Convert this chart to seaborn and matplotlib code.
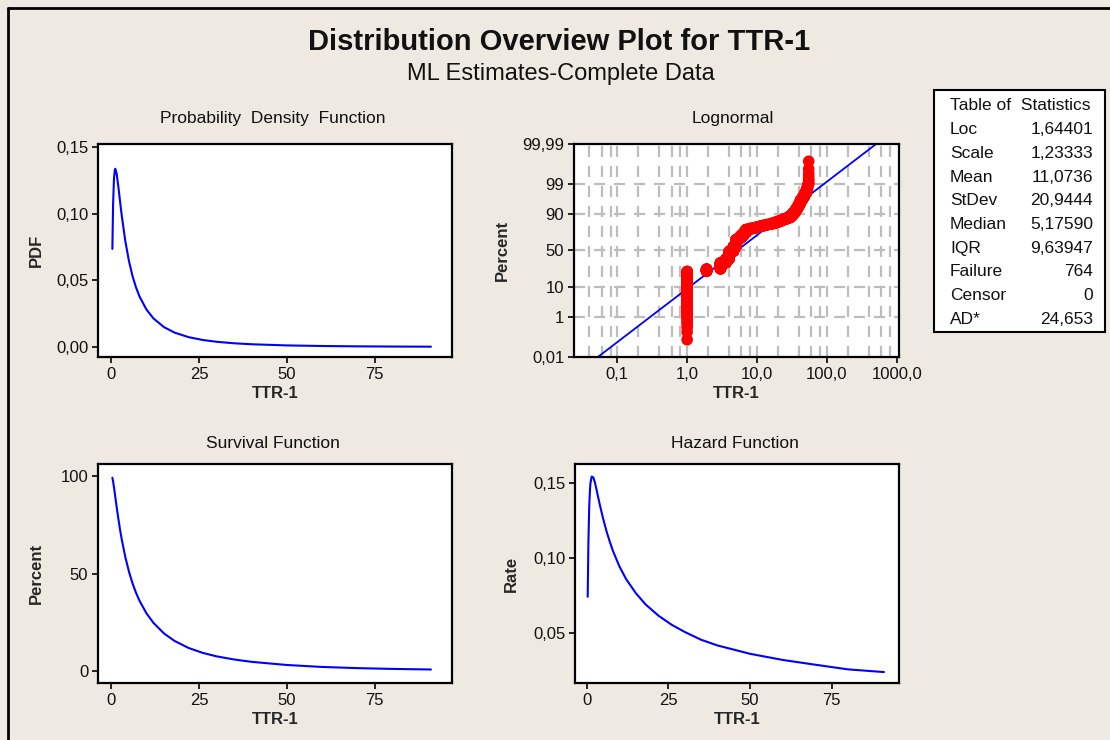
import numpy as np
import pandas as pd
import matplotlib
matplotlib.use("Agg")
import matplotlib.pyplot as plt
import seaborn as sns
from matplotlib.ticker import FixedLocator, NullLocator, FixedFormatter
from matplotlib.patches import Rectangle
from matplotlib.lines import Line2D
from statistics import NormalDist

# ---------------- data ----------------
curve_x = [0.29, 0.5, 0.75, 1.0, 1.13, 1.5, 2, 2.5, 3, 4, 5, 6, 7, 8, 10, 12, 15, 18,
           22, 26, 30, 35, 40, 50, 60, 70, 80, 91]
pdf_y = [0.0736, 0.1074, 0.1265, 0.1330, 0.1337, 0.1302, 0.1202, 0.1087, 0.0978, 0.0791,
         0.0647, 0.0535, 0.0449, 0.0380, 0.0281, 0.0214, 0.0149, 0.0108, 0.00739, 0.00528,
         0.00391, 0.00278, 0.00205, 0.00119, 0.00075, 0.00050, 0.00034, 0.00024]
survival_pct = [99.0, 97.1, 94.1, 90.9, 89.1, 84.2, 78.0, 72.2, 67.1, 58.3, 51.1, 45.2, 40.3,
                36.2, 29.7, 24.8, 19.4, 15.6, 12.0, 9.5, 7.7, 6.1, 4.9, 3.3, 2.3, 1.7, 1.3, 1.0]
hazard_y = [0.0743, 0.1106, 0.1344, 0.1463, 0.1501, 0.1546, 0.1541, 0.1506, 0.1458, 0.1357,
            0.1266, 0.1184, 0.1114, 0.1050, 0.0946, 0.0863, 0.0768, 0.0692, 0.0616, 0.0556,
            0.0508, 0.0456, 0.0418, 0.0362, 0.0321, 0.0289, 0.0258, 0.0240]

ttr_values = [1.0, 1.9, 3.0, 3.6, 4.0, 4.6, 5.0, 5.5, 6.0, 6.5, 7.0, 8, 9, 10, 11, 12, 13, 14,
              16, 18, 20, 22, 24, 27, 30, 32, 34, 36, 38, 40, 42, 45, 48, 51, 53, 55]
ttr_counts = [178, 20, 57, 40, 78, 50, 72, 20, 25, 22, 26, 8, 6, 6, 5, 5, 4, 4,
              7, 7, 7, 7, 7, 7, 10, 10, 10, 10, 9, 9, 9, 6, 6, 5, 4, 8]

fit_loc = 1.64401
fit_scale = 1.23333

stat_names = ["Loc", "Scale", "Mean", "StDev", "Median", "IQR", "Failure", "Censor", "AD*"]
stat_values = ["1,64401", "1,23333", "11,0736", "20,9444", "5,17590", "9,63947", "764", "0", "24,653"]

lin_xticks = [0, 25, 50, 75]
lin_xlabels = ["0", "25", "50", "75"]
pdf_yticks = [0.0, 0.05, 0.10, 0.15]
pdf_ylabels = ["0,00", "0,05", "0,10", "0,15"]
surv_yticks = [0, 50, 100]
surv_ylabels = ["0", "50", "100"]
haz_yticks = [0.05, 0.10, 0.15]
haz_ylabels = ["0,05", "0,10", "0,15"]
prob_yticks = [0.01, 1, 10, 50, 90, 99, 99.99]
prob_ylabels = ["0,01", "1", "10", "50", "90", "99", "99,99"]
prob_xticks = [0.1, 1, 10, 100, 1000]
prob_xlabels = ["0,1", "1,0", "10,0", "100,0", "1000,0"]

# ---------------- style ----------------
BG = "#EEEAE1"
BLUE = "#0000FF"
RED = "#FF0000"
sns.set_theme(style="white")
plt.rcParams["font.family"] = ["Liberation Sans", "DejaVu Sans"]
plt.rcParams["axes.linewidth"] = 1.6
plt.rcParams["axes.edgecolor"] = "black"

W, H = 1110, 740
fig = plt.figure(figsize=(W / 100, H / 100), dpi=100, facecolor=BG)

TICK_FS = 12
LAB_FS = 12


def px_rect(left, top, right, bottom):
    return [left / W, 1 - bottom / H, (right - left) / W, (bottom - top) / H]


ax_pdf = fig.add_axes(px_rect(98, 144, 452, 357))
ax_prob = fig.add_axes(px_rect(574, 144, 899, 357))
ax_surv = fig.add_axes(px_rect(98, 464, 452, 683))
ax_haz = fig.add_axes(px_rect(575, 464, 899, 683))

for ax in (ax_pdf, ax_prob, ax_surv, ax_haz):
    ax.set_facecolor("white")
    ax.tick_params(axis="both", which="major", direction="out", length=4, width=1.2,
                   color="black", labelsize=TICK_FS, pad=3, labelcolor="#111111",
                   bottom=True, left=True)
    for s in ax.spines.values():
        s.set_color("black")
        s.set_linewidth(1.6)

df_curve = pd.DataFrame({"x": curve_x, "pdf": pdf_y, "surv": survival_pct, "haz": hazard_y})

# PDF
sns.lineplot(data=df_curve, x="x", y="pdf", ax=ax_pdf, color=BLUE, lw=1.5, sort=False, estimator=None)
ax_pdf.set_xlim(-3.8, 97)
ax_pdf.set_ylim(-0.0075, 0.1523)
ax_pdf.set_yticks(pdf_yticks, pdf_ylabels)
ax_pdf.set_ylabel("PDF", fontsize=LAB_FS, fontweight="bold")

# Survival
sns.lineplot(data=df_curve, x="x", y="surv", ax=ax_surv, color=BLUE, lw=1.5, sort=False, estimator=None)
ax_surv.set_xlim(-3.8, 97)
ax_surv.set_ylim(-5.9, 106)
ax_surv.set_yticks(surv_yticks, surv_ylabels)
ax_surv.set_ylabel("Percent", fontsize=LAB_FS, fontweight="bold")

# Hazard
sns.lineplot(data=df_curve, x="x", y="haz", ax=ax_haz, color=BLUE, lw=1.5, sort=False, estimator=None)
ax_haz.set_xlim(-3.6, 95.6)
ax_haz.set_ylim(0.0167, 0.163)
ax_haz.set_yticks(haz_yticks, haz_ylabels)
ax_haz.set_ylabel("Rate", fontsize=LAB_FS, fontweight="bold")

for ax in (ax_pdf, ax_surv, ax_haz):
    ax.set_xticks(lin_xticks, lin_xlabels)
    ax.set_xlabel("TTR-1", fontsize=LAB_FS, fontweight="bold", labelpad=3)

# Lognormal probability plot
nd = NormalDist()
_inv_cdf = np.vectorize(nd.inv_cdf, otypes=[float])
_cdf = np.vectorize(nd.cdf, otypes=[float])


def fwd(p):
    p = np.clip(np.asarray(p, dtype=float) / 100.0, 1e-9, 1 - 1e-9)
    return _inv_cdf(p)


def inv(z):
    z = np.asarray(z, dtype=float)
    return _cdf(z) * 100.0


ax_prob.set_xscale("log")
ax_prob.set_yscale("function", functions=(fwd, inv))

data = np.repeat(np.array(ttr_values, dtype=float), ttr_counts)
n = data.size
ranks = np.arange(1, n + 1)
pct = (ranks - 0.3) / (n + 0.4) * 100.0
df_pts = pd.DataFrame({"ttr": np.sort(data), "pct": pct})

fit_x = np.geomspace(0.02, 1200, 80)
fit_dist = NormalDist(fit_loc, fit_scale)
fit_p = np.array([fit_dist.cdf(v) for v in np.log(fit_x)]) * 100.0
df_fit = pd.DataFrame({"x": fit_x, "p": fit_p})
df_fit = df_fit[(df_fit.p > 0.002) & (df_fit.p < 99.998)]

# grid
grid_kw = dict(color="#BDBDBD", lw=1.6, ls=(0, (5, 4)), zorder=0.5)
vgrid = [m * 10.0 ** e for e in range(-2, 3) for m in (1, 2, 4, 6, 8)]
for gx in vgrid:
    if 0.024 < gx < 1080:
        ax_prob.axvline(gx, **grid_kw)
for gy in [1, 10, 50, 90, 99]:
    ax_prob.axhline(gy, **grid_kw)

sns.lineplot(data=df_fit, x="x", y="p", ax=ax_prob, color=BLUE, lw=1.3, sort=False,
             estimator=None, zorder=2)
sns.scatterplot(data=df_pts, x="ttr", y="pct", ax=ax_prob, color=RED, s=70, edgecolor="none",
                linewidth=0, zorder=3)
ax_prob.set_xlim(0.024, 1080)
ax_prob.set_ylim(0.01, 99.99)
ax_prob.yaxis.set_major_locator(FixedLocator(prob_yticks))
ax_prob.yaxis.set_major_formatter(FixedFormatter(prob_ylabels))
ax_prob.yaxis.set_minor_locator(NullLocator())
ax_prob.xaxis.set_major_locator(FixedLocator(prob_xticks))
ax_prob.xaxis.set_major_formatter(FixedFormatter(prob_xlabels))
ax_prob.xaxis.set_minor_locator(NullLocator())
ax_prob.set_ylabel("Percent", fontsize=LAB_FS, fontweight="bold")
ax_prob.set_xlabel("TTR-1", fontsize=LAB_FS, fontweight="bold", labelpad=3)

# y label positions
ax_pdf.yaxis.set_label_coords(-0.152, 0.5)
ax_surv.yaxis.set_label_coords(-0.152, 0.5)
ax_prob.yaxis.set_label_coords(-0.197, 0.5)
ax_haz.yaxis.set_label_coords(-0.173, 0.5)

# panel titles
PT_FS = 12.5
fig.text(273 / W, 1 - 118 / H, "Probability  Density  Function", ha="center", va="center", fontsize=PT_FS, color="#111111")
fig.text(733 / W, 1 - 118 / H, "Lognormal", ha="center", va="center", fontsize=PT_FS, color="#111111")
fig.text(273 / W, 1 - 444 / H, "Survival Function", ha="center", va="center", fontsize=PT_FS, color="#111111")
fig.text(735 / W, 1 - 444 / H, "Hazard Function", ha="center", va="center", fontsize=PT_FS, color="#111111")

# main titles
fig.text(559 / W, 1 - 42 / H, "Distribution Overview Plot for TTR-1", ha="center", va="center",
         fontsize=21, fontweight="bold", color="#111111")
fig.text(561 / W, 1 - 74 / H, "ML Estimates-Complete Data", ha="center", va="center",
         fontsize=17, color="#111111")

# statistics table
fig.add_artist(Rectangle((934 / W, 1 - 332 / H), (1105 - 934) / W, (332 - 90) / H,
                         transform=fig.transFigure, facecolor="white", edgecolor="black", lw=1.5))
TB_FS = 12.5
row_y0, row_dy = 106, 23.67
fig.text(950 / W, 1 - row_y0 / H, "Table of  Statistics", ha="left", va="center", fontsize=TB_FS, color="#111111")
for i, (nm, vl) in enumerate(zip(stat_names, stat_values)):
    yy = 1 - (row_y0 + row_dy * (i + 1)) / H
    fig.text(950 / W, yy, nm, ha="left", va="center", fontsize=TB_FS, color="#111111")
    fig.text(1093 / W, yy, vl, ha="right", va="center", fontsize=TB_FS, color="#111111")

# outer frame (top and left edges visible)
fig.add_artist(Line2D([8 / W, 8 / W], [0, 1 - 8 / H], transform=fig.transFigure, color="black", lw=2))
fig.add_artist(Line2D([8 / W, 1], [1 - 8 / H, 1 - 8 / H], transform=fig.transFigure, color="black", lw=2))

fig.savefig("out.png", dpi=100, facecolor=BG)
